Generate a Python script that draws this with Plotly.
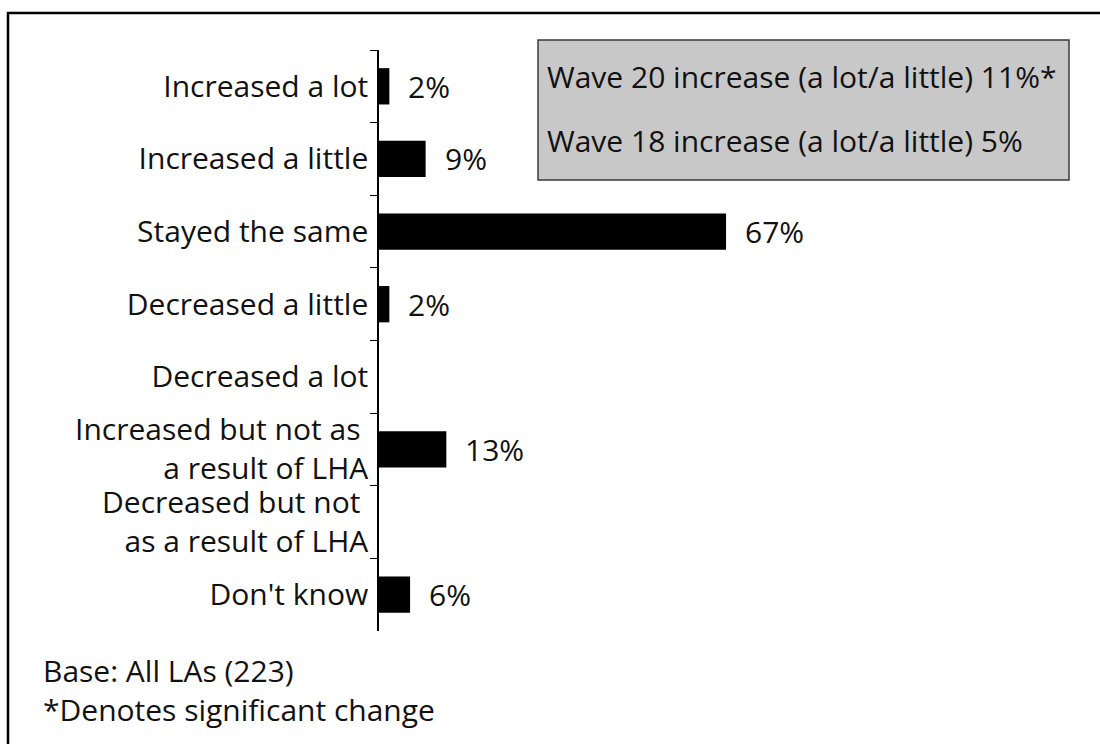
import plotly.graph_objects as go

# Survey responses: change since last wave
categories = [
    "Increased a lot",
    "Increased a little",
    "Stayed the same",
    "Decreased a little",
    "Decreased a lot",
    "Increased but not as <br>a result of LHA",
    "Decreased but not <br>as a result of LHA",
    "Don't know",
]
values = [2, 9, 67, 2, 0, 13, 0, 6]

summary_lines = [
    "Wave 20 increase (a lot/a little) 11%*",
    "Wave 18 increase (a lot/a little) 5%",
]
footnotes = ["Base: All LAs (223)", "*Denotes significant change"]

FONT = "Open Sans"
FS = 30
W, H = 1100, 744
ML, MT, MB = 379, 50, 113
X_MAX = 100
PLOT_W = 518
MR = W - ML - PLOT_W
PLOT_H = H - MT - MB


def px(x):
    """Pixel column -> paper x."""
    return (x - ML) / PLOT_W


def py(y):
    """Pixel row -> paper y."""
    return (H - MB - y) / PLOT_H


fig = go.Figure(
    go.Bar(
        x=values,
        y=categories,
        orientation="h",
        width=0.5,
        marker=dict(color="#000000", line=dict(width=0)),
        hoverinfo="skip",
    )
)

# value labels to the right of each non-empty bar
for cat, v in zip(categories, values):
    if v > 0:
        fig.add_annotation(
            x=v, y=cat, xref="x", yref="y",
            text=f"{v}%", showarrow=False,
            xanchor="left", xshift=17,
            font=dict(family=FONT, size=FS, color="#111111"),
        )

# outer frame
fig.add_shape(
    type="rect", xref="paper", yref="paper",
    x0=px(8), x1=px(1110), y0=py(760), y1=py(13),
    line=dict(color="#000000", width=2.5), fillcolor="rgba(0,0,0,0)",
    layer="below",
)

# summary box
fig.add_shape(
    type="rect", xref="paper", yref="paper",
    x0=px(538), x1=px(1069), y0=py(180), y1=py(40),
    line=dict(color="#3a3a3a", width=1.5), fillcolor="#c8c8c8",
    layer="below",
)
for line, yy in zip(summary_lines, [76, 140]):
    fig.add_annotation(
        x=px(545), y=py(yy), xref="paper", yref="paper",
        text=line, showarrow=False, xanchor="left", yanchor="middle",
        font=dict(family=FONT, size=FS, color="#111111"),
    )

# footnotes as one left-aligned block
fig.add_annotation(
    x=px(41), y=py(690), xref="paper", yref="paper",
    text="<br>".join(footnotes), showarrow=False,
    xanchor="left", yanchor="middle", align="left",
    font=dict(family=FONT, size=FS, color="#111111"),
)

fig.update_layout(
    width=W, height=H,
    margin=dict(l=ML, r=MR, t=MT, b=MB),
    paper_bgcolor="white", plot_bgcolor="white",
    showlegend=False,
    bargap=0.5,
    xaxis=dict(range=[0, X_MAX], visible=False, fixedrange=True),
    yaxis=dict(
        autorange="reversed",
        showline=True, linecolor="#000000", linewidth=1.5,
        ticks="outside", tickson="boundaries", ticklen=7,
        tickcolor="#000000", tickwidth=1.2,
        showgrid=False, zeroline=False,
        ticklabelstandoff=3,
        tickfont=dict(family=FONT, size=FS, color="#111111"),
        fixedrange=True,
    ),
)

fig.write_html("out.html")
